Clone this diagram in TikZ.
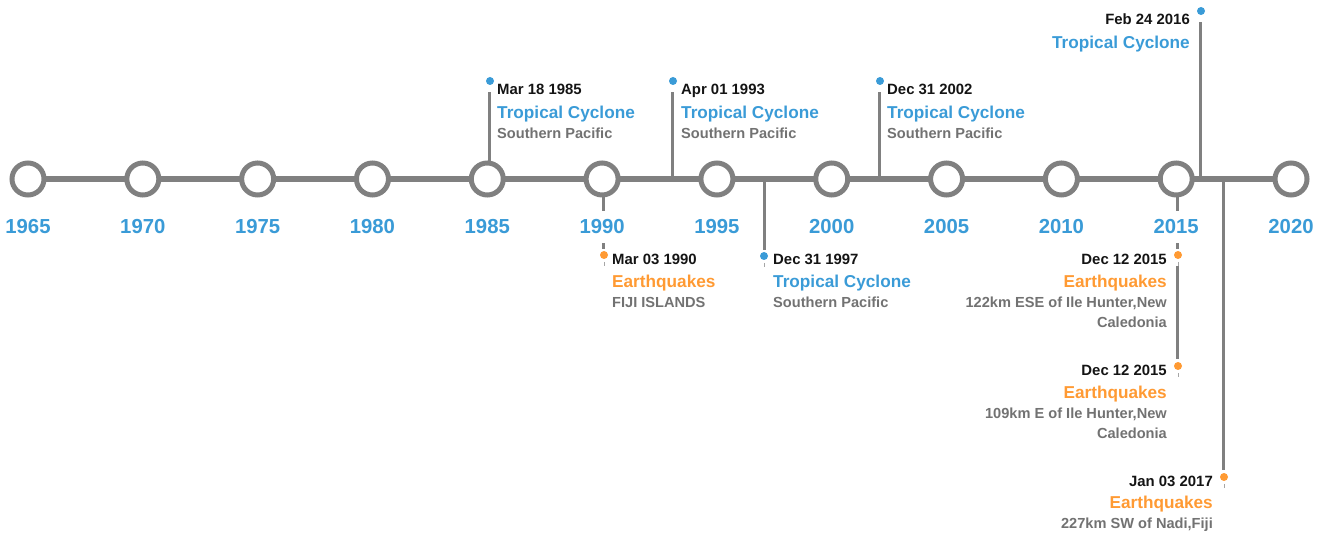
\documentclass[tikz,border=0pt]{standalone}
\usepackage{fontspec}
\setmainfont{Liberation Sans}
\definecolor{cblue}{HTML}{3A9BD7}
\definecolor{corange}{HTML}{FF9A33}
\definecolor{cgraytxt}{HTML}{727272}
\definecolor{cline}{HTML}{808080}
\begin{document}
\begin{tikzpicture}[x=1pt,y=-1pt,
  ring/.style={circle, draw=cline, line width=5pt, fill=white, minimum size=32pt, inner sep=0pt},
  axisline/.style={draw=cline, line width=6pt},
  stemline/.style={draw=cline, line width=3pt},
  stubline/.style={draw=cline!70, line width=1pt},
  bdot/.style={circle, fill=cblue, minimum size=8pt, inner sep=0pt},
  odot/.style={circle, fill=corange, minimum size=8pt, inner sep=0pt},
  datetxt/.style={font=\fontsize{14.9}{18}\selectfont\bfseries, text=black!92, inner sep=0pt},
  titletxt/.style={font=\fontsize{17.2}{20}\selectfont\bfseries, inner sep=0pt},
  subtxt/.style={font=\fontsize{14.6}{18}\selectfont\bfseries, text=cgraytxt, inner sep=0pt},
  yeartxt/.style={font=\fontsize{20.3}{24}\selectfont\bfseries, text=cblue, fill=white, inner xsep=3pt, inner ysep=9pt, anchor=base}
]
\useasboundingbox (0,0) rectangle (1325,534);

% ---- stems (drawn first, behind everything) ----
% upper
\coordinate (s85) at (489,179); \coordinate (t85) at (489,92);
\coordinate (s93) at (672,179); \coordinate (t93) at (672,92);
\coordinate (s02) at (879,179); \coordinate (t02) at (879,92);
\coordinate (s16) at (1200,179); \coordinate (t16) at (1200,22);
% lower
\coordinate (s90) at (603,179); \coordinate (t90) at (603,249);
\coordinate (s97) at (764,179); \coordinate (t97) at (764,250);
\coordinate (s15a) at (1177,179); \coordinate (t15a) at (1177,249);
\coordinate (s15b) at (1177,266); \coordinate (t15b) at (1177,359);
\coordinate (s17) at (1223,179); \coordinate (t17) at (1223,470);

\foreach \n in {85,93,02,16,90,97,15a,15b,17} {\draw[stemline] (s\n) -- (t\n);}

% ---- axis ----
\foreach \i [evaluate=\i as \xx using 28+114.82*\i] in {0,...,11} {
  \coordinate (c\i) at (\xx,179);
}
\draw[axisline] (c0) -- (c11);
\foreach \i/\yr [evaluate=\i as \xx using 28+114.82*\i] in {0/1965,1/1970,2/1975,3/1980,4/1985,5/1990,6/1995,7/2000,8/2005,9/2010,10/2015,11/2020} {
  \node[ring] (r\i) at (c\i) {};
  \node[yeartxt] (y\i) at (\xx,234) {\yr};
}

% ---- dots ----
\node[bdot] (d85) at (490,81) {};
\node[bdot] (d93) at (673,81) {};
\node[bdot] (d02) at (880,81) {};
\node[bdot] (d16) at (1201,11) {};
\node[odot] (d90) at (604,255) {};
\node[bdot] (d97) at (764,256) {};
\node[odot] (d15a) at (1178,255) {};
\node[odot] (d15b) at (1178,366) {};
\node[odot] (d17) at (1224,477) {};

% stubs below the lower dots
\foreach \n in {90,97,15a,15b,17} {
  \draw[stubline] ([yshift=-7pt]d\n.center) -- ([yshift=-11pt]d\n.center);
}

% ---- texts: upper ----
\node[datetxt, anchor=base west] (a85) at (497,95) {Mar 18 1985};
\node[titletxt, text=cblue, anchor=base west] (b85) at (497,118.5) {Tropical Cyclone};
\node[subtxt, anchor=base west] (c85) at (497,138.5) {Southern Pacific};

\node[datetxt, anchor=base west] (a93) at (681,95) {Apr 01 1993};
\node[titletxt, text=cblue, anchor=base west] (b93) at (681,118.5) {Tropical Cyclone};
\node[subtxt, anchor=base west] (c93) at (681,138.5) {Southern Pacific};

\node[datetxt, anchor=base west] (a02) at (887,95) {Dec 31 2002};
\node[titletxt, text=cblue, anchor=base west] (b02) at (887,118.5) {Tropical Cyclone};
\node[subtxt, anchor=base west] (c02) at (887,138.5) {Southern Pacific};

\node[datetxt, anchor=base east] (a16) at (1190,25) {Feb 24 2016};
\node[titletxt, text=cblue, anchor=base east] (b16) at (1190,48.5) {Tropical Cyclone};

% ---- texts: lower ----
\node[datetxt, anchor=base west] (a90) at (612,265) {Mar 03 1990};
\node[titletxt, text=corange, anchor=base west] (b90) at (612,287.5) {Earthquakes};
\node[subtxt, anchor=base west] (c90) at (612,307.5) {FIJI ISLANDS};

\node[datetxt, anchor=base west] (a97) at (773,265) {Dec 31 1997};
\node[titletxt, text=cblue, anchor=base west] (b97) at (773,287.5) {Tropical Cyclone};
\node[subtxt, anchor=base west] (c97) at (773,307.5) {Southern Pacific};

\node[datetxt, anchor=base east] (a15a) at (1167,265) {Dec 12 2015};
\node[titletxt, text=corange, anchor=base east] (b15a) at (1167,287.5) {Earthquakes};
\node[subtxt, anchor=base east] (c15a) at (1167,307.5) {122km ESE of Ile Hunter,New};
\node[subtxt, anchor=base east] (e15a) at (1167,327.5) {Caledonia};

\node[datetxt, anchor=base east] (a15b) at (1167,376) {Dec 12 2015};
\node[titletxt, text=corange, anchor=base east] (b15b) at (1167,398.5) {Earthquakes};
\node[subtxt, anchor=base east] (c15b) at (1167,418.5) {109km E of Ile Hunter,New};
\node[subtxt, anchor=base east] (e15b) at (1167,438.5) {Caledonia};

\node[datetxt, anchor=base east] (a17) at (1213,486) {Jan 03 2017};
\node[titletxt, text=corange, anchor=base east] (b17) at (1213,508.5) {Earthquakes};
\node[subtxt, anchor=base east] (c17) at (1213,528.5) {227km SW of Nadi,Fiji};
\end{tikzpicture}
\end{document}
